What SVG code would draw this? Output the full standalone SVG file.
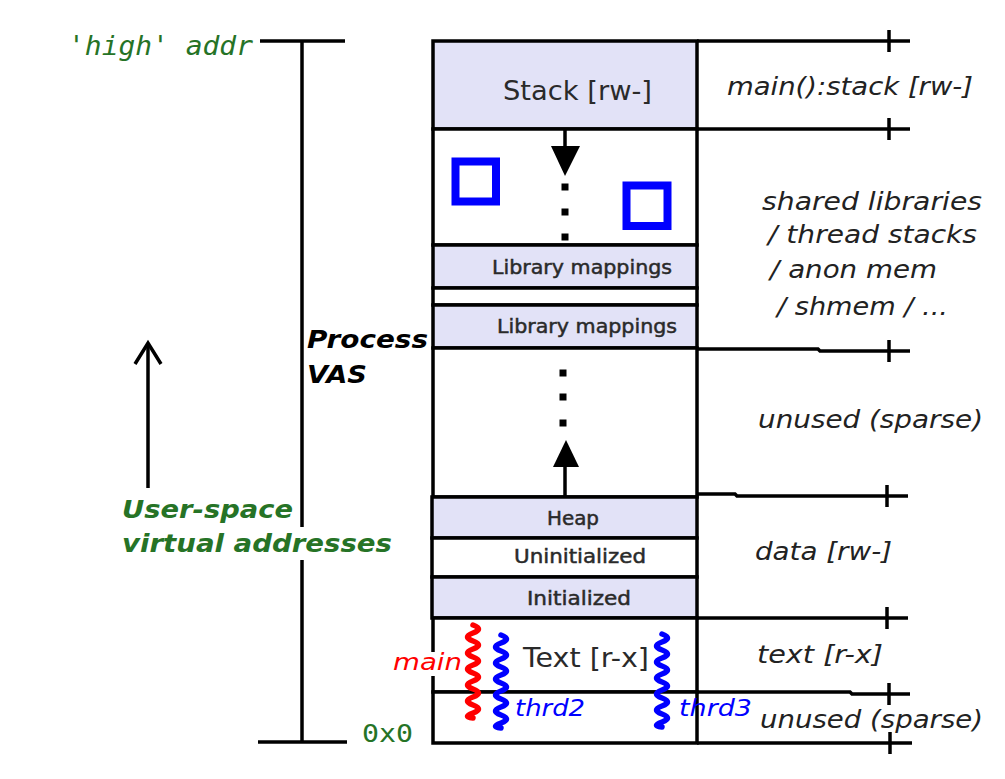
<svg xmlns="http://www.w3.org/2000/svg" xmlns:xlink="http://www.w3.org/1999/xlink" width="1005" height="779" viewBox="0 0 1005 779">
<style>
.ln{stroke:#000;stroke-width:3.5;fill:none}
.lav{fill:#e2e2f7;stroke:#000;stroke-width:3.5}
.wht{fill:#fff;stroke:#000;stroke-width:3.5}
.bx{font-family:"DejaVu Sans",sans-serif;fill:#2a2a2a}
.sm{stroke:#2a2a2a;stroke-width:0.5}
.rt{font-family:"DejaVu Sans",sans-serif;font-style:italic;fill:#222;font-size:25px}
.grn{fill:#267326}
.mono{font-family:"DejaVu Sans Mono","Liberation Mono",monospace}
.bi{font-family:"DejaVu Sans",sans-serif;font-weight:bold;font-style:italic;font-size:24px}
.thr{font-family:"DejaVu Sans",sans-serif;font-style:italic;font-size:23px}
.sq{fill:none;stroke-width:5.5;stroke-linecap:round;stroke-linejoin:round}
</style>
<defs>
<path id="squig" d="M0 0 q11 4 0 8 t0 8 t0 8 t0 8 t0 8 t0 8 t0 8 t0 8 t0 8 t0 8 t0 8 t0 5"/>
</defs>
<rect width="1005" height="779" fill="#fff"/>

<g id="left-labels">
<text class="mono grn" x="68" y="55" font-size="27" font-style="italic" textLength="185" lengthAdjust="spacingAndGlyphs">'high' addr</text>
<text class="mono grn" x="362" y="742" font-size="25" textLength="51" lengthAdjust="spacingAndGlyphs">0x0</text>
<text class="bi" x="307" y="348" textLength="121" lengthAdjust="spacingAndGlyphs">Process</text>
<text class="bi" x="307" y="383" textLength="60" lengthAdjust="spacingAndGlyphs">VAS</text>
<text class="bi grn" x="122" y="518" textLength="171" lengthAdjust="spacingAndGlyphs">User-space</text>
<text class="bi grn" x="122" y="552" textLength="270" lengthAdjust="spacingAndGlyphs">virtual addresses</text>
</g>

<g id="vas-bracket">
<line class="ln" x1="260" y1="41" x2="345" y2="41"/>
<line class="ln" x1="258" y1="742" x2="347" y2="742"/>
<line class="ln" x1="302" y1="41" x2="302" y2="527"/>
<line class="ln" x1="302" y1="560" x2="302" y2="742"/>
</g>

<g id="stack">
<rect class="lav" x="433" y="41" width="264" height="88"/>
<text class="bx" x="503" y="100" font-size="27" textLength="149" lengthAdjust="spacingAndGlyphs">Stack [rw-]</text>
</g>
<g id="mmap-area">
<rect class="wht" x="433" y="129" width="264" height="116"/>
<rect x="455.5" y="161.5" width="40.5" height="40" fill="none" stroke="#0000ff" stroke-width="8"/>
<rect x="626.5" y="185.5" width="41" height="40.5" fill="none" stroke="#0000ff" stroke-width="8"/>
</g>
<g id="lib1">
<rect class="lav" x="433" y="245" width="264" height="43"/>
<text class="bx sm" x="492" y="274" font-size="20" textLength="180" lengthAdjust="spacingAndGlyphs">Library mappings</text>
</g>
<g id="gap">
<rect class="wht" x="433" y="288" width="264" height="17"/>
</g>
<g id="lib2">
<rect class="lav" x="433" y="305" width="264" height="43"/>
<text class="bx sm" x="497" y="333" font-size="20" textLength="180" lengthAdjust="spacingAndGlyphs">Library mappings</text>
</g>
<g id="unused-mid">
<rect class="wht" x="433" y="348" width="264" height="149"/>
</g>
<g id="heap">
<rect class="lav" x="432" y="497" width="265" height="41"/>
<text class="bx sm" x="547" y="525" font-size="20" textLength="52" lengthAdjust="spacingAndGlyphs">Heap</text>
</g>
<g id="uninit">
<rect class="wht" x="432" y="538" width="265" height="39"/>
<text class="bx sm" x="514" y="563" font-size="20" textLength="132" lengthAdjust="spacingAndGlyphs">Uninitialized</text>
</g>
<g id="init">
<rect class="lav" x="432" y="577" width="265" height="41"/>
<text class="bx sm" x="527" y="605" font-size="20" textLength="104" lengthAdjust="spacingAndGlyphs">Initialized</text>
</g>
<g id="text-seg">
<rect class="wht" x="433" y="618" width="264" height="74"/>
<text class="bx" x="523" y="667" font-size="27" textLength="126" lengthAdjust="spacingAndGlyphs">Text [r-x]</text>
</g>
<g id="unused-low">
<rect class="wht" x="433" y="692" width="264" height="51"/>
</g>

<g id="connectors">
<line class="ln" x1="565" y1="129" x2="565" y2="147"/>
<polygon points="551,146 580,146 565,176" fill="#000"/>
<rect x="561.5" y="183.5" width="7" height="7" fill="#000"/>
<rect x="561.5" y="208.5" width="7" height="7" fill="#000"/>
<rect x="561.5" y="233.5" width="7" height="7" fill="#000"/>
<rect x="559.5" y="369.5" width="7" height="7" fill="#000"/>
<rect x="559.5" y="393.5" width="7" height="7" fill="#000"/>
<rect x="559.5" y="419.5" width="7" height="7" fill="#000"/>
<polygon points="553,467 579,467 566,440" fill="#000"/>
<line class="ln" x1="565" y1="466" x2="565" y2="497"/>
<line class="ln" x1="148" y1="488" x2="148" y2="343"/>
<polyline class="ln" points="135,364 148,343 161,364"/>
</g>

<g id="scale">
<line class="ln" x1="697" y1="41" x2="910" y2="41"/>
<line class="ln" x1="697" y1="129" x2="910" y2="129"/>
<polyline class="ln" points="697,349 818,349 820,351 910,351"/>
<polyline class="ln" points="697,494 735,494 737,496 908,496"/>
<line class="ln" x1="697" y1="618" x2="908" y2="618"/>
<polyline class="ln" points="697,692 850,692 852,694 910,694"/>
<line class="ln" x1="697" y1="743" x2="912" y2="743"/>
<line class="ln" x1="889" y1="30" x2="889" y2="52"/>
<line class="ln" x1="889" y1="118" x2="889" y2="140"/>
<line class="ln" x1="889" y1="340" x2="889" y2="362"/>
<line class="ln" x1="887" y1="485" x2="887" y2="507"/>
<line class="ln" x1="887" y1="607" x2="887" y2="629"/>
<line class="ln" x1="889" y1="683" x2="889" y2="705"/>
<line class="ln" x1="890" y1="732" x2="890" y2="754"/>
</g>

<g id="right-labels">
<text class="rt" x="727" y="95" textLength="246" lengthAdjust="spacingAndGlyphs">main():stack [rw-]</text>
<text class="rt" x="762" y="210" textLength="220" lengthAdjust="spacingAndGlyphs">shared libraries</text>
<text class="rt" x="768" y="243" textLength="209" lengthAdjust="spacingAndGlyphs">/ thread stacks</text>
<text class="rt" x="770" y="278" textLength="167" lengthAdjust="spacingAndGlyphs">/ anon mem</text>
<text class="rt" x="777" y="315" textLength="171" lengthAdjust="spacingAndGlyphs">/ shmem / ...</text>
<text class="rt" x="758" y="428" textLength="225" lengthAdjust="spacingAndGlyphs">unused (sparse)</text>
<text class="rt" x="755" y="560" textLength="137" lengthAdjust="spacingAndGlyphs">data [rw-]</text>
<text class="rt" x="757" y="663" textLength="126" lengthAdjust="spacingAndGlyphs">text [r-x]</text>
<text class="rt" x="760" y="728" textLength="223" lengthAdjust="spacingAndGlyphs">unused (sparse)</text>
</g>

<g id="threads">
<rect x="428" y="652" width="10" height="24" fill="#fff"/>
<text class="thr" x="393" y="670" fill="#ff0000" textLength="69" lengthAdjust="spacingAndGlyphs">main</text>
<use href="#squig" x="473" y="625" class="sq" stroke="#ff0000"/>
<use href="#squig" x="501" y="635" class="sq" stroke="#0000ff"/>
<use href="#squig" x="662" y="634" class="sq" stroke="#0000ff"/>
<text class="thr" x="515" y="716" fill="#0000ff" textLength="70" lengthAdjust="spacingAndGlyphs">thrd2</text>
<text class="thr" x="679" y="716" fill="#0000ff" textLength="73" lengthAdjust="spacingAndGlyphs">thrd3</text>
</g>
</svg>
